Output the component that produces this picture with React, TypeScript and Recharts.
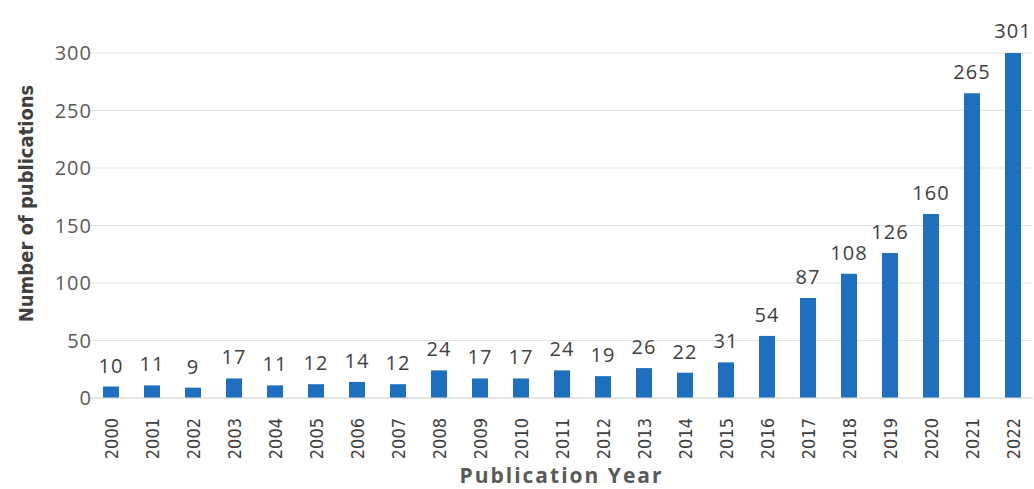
import React from 'react';
import { Bar, BarChart, CartesianGrid, LabelList, XAxis, YAxis } from 'recharts';

const years = [
  '2000', '2001', '2002', '2003', '2004', '2005', '2006', '2007', '2008', '2009', '2010', '2011',
  '2012', '2013', '2014', '2015', '2016', '2017', '2018', '2019', '2020', '2021', '2022',
];
const publications = [10, 11, 9, 17, 11, 12, 14, 12, 24, 17, 17, 24, 19, 26, 22, 31, 54, 87, 108, 126, 160, 265, 301];
const yTicks = [0, 50, 100, 150, 200, 250, 300];

const data = years.map((year, i) => ({ year, count: publications[i] }));

const narrow = '"Liberation Sans Narrow", "DejaVu Sans Condensed", "Liberation Sans", sans-serif';

const YearTick = (props: any) => {
  const { x, y, payload } = props;
  return (
    <text
      x={x}
      y={y}
      transform={`rotate(-90, ${x}, ${y})`}
      dx={-12}
      dy={7}
      textAnchor="end"
      fill="#404040"
      fontSize={18}
      fontFamily={narrow}
    >
      {payload.value}
    </text>
  );
};

const App: React.FC = () => {
  return (
    <div style={{ position: 'absolute', top: 0, left: 0, background: '#fff' }}>
      <BarChart width={1034} height={489} data={data} margin={{ top: 53, right: 1, bottom: 0, left: 0 }}>
        <CartesianGrid vertical={false} stroke="#e3e3e3" />
        <XAxis
          dataKey="year"
          height={91}
          interval={0}
          tickLine={false}
          axisLine={{ stroke: '#d9d9d9' }}
          tick={<YearTick />}
          label={{
            value: 'Publication Year',
            position: 'insideBottom',
            offset: 6,
            fill: '#595959',
            fontSize: 21,
            fontWeight: 700,
            letterSpacing: 2,
            fontFamily: '"Open Sans", sans-serif',
          }}
        />
        <YAxis
          width={90}
          domain={[0, 300]}
          ticks={yTicks}
          allowDataOverflow
          tickLine={false}
          axisLine={false}
          tickSize={0}
          tickMargin={0}
          dx={2}
          tick={{ fill: '#595959', fontSize: 20, letterSpacing: 1, fontFamily: '"Open Sans", sans-serif' }}
          label={{
            value: 'Number of publications',
            angle: -90,
            position: 'insideLeft',
            offset: 26,
            dy: -22,
            fill: '#404040',
            fontSize: 20,
            fontWeight: 700,
            fontFamily: narrow,
            style: { textAnchor: 'middle' },
          }}
        />
        <Bar dataKey="count" fill="#1f6fbf" barSize={16} isAnimationActive={false}>
          <LabelList
            dataKey="count"
            position="top"
            offset={14}
            fill="#404040"
            fontSize={20}
            letterSpacing={1}
            fontFamily='"Open Sans", sans-serif'
          />
        </Bar>
      </BarChart>
    </div>
  );
};

export default App;
